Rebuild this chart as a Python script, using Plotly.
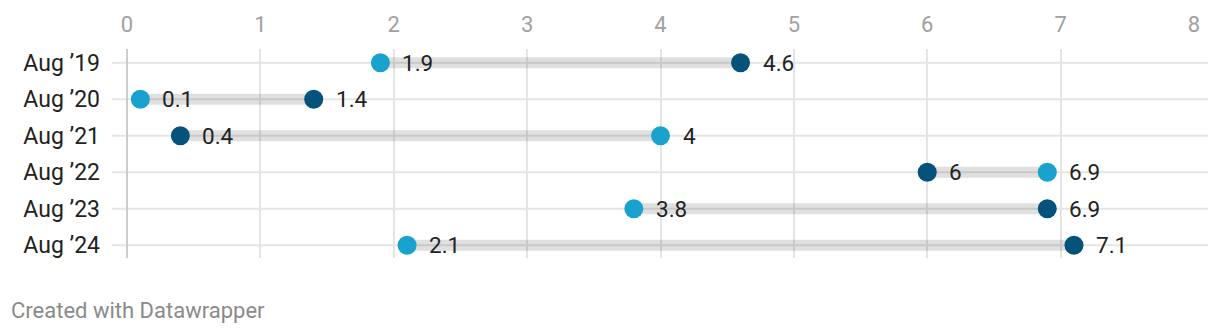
import plotly.graph_objects as go

categories = ["Aug ’19", "Aug ’20", "Aug ’21", "Aug ’22", "Aug ’23", "Aug ’24"]
series_light = [1.9, 0.1, 4, 6.9, 3.8, 2.1]
series_dark = [4.6, 1.4, 0.4, 6, 6.9, 7.1]
x_ticks = [0, 1, 2, 3, 4, 5, 6, 7, 8]

LIGHT = "#1aa2cf"
DARK = "#05537b"
FONT = "Roboto"

W, H = 1220, 336
L, R, T, B = 127, 26, 46, 78
rows = list(range(len(categories)))

fig = go.Figure()

# connecting bars
for i in rows:
    fig.add_trace(go.Scatter(
        x=[series_light[i], series_dark[i]], y=[i, i], mode="lines",
        line=dict(color="rgba(0,0,0,0.12)", width=11),
        hoverinfo="skip", showlegend=False))

def fmt(v):
    return f"{v:g}"

for vals, col in [(series_light, LIGHT), (series_dark, DARK)]:
    fig.add_trace(go.Scatter(
        x=vals, y=rows, mode="markers",
        marker=dict(color=col, size=19, line=dict(width=0)),
        showlegend=False, cliponaxis=False, hoverinfo="x"))
    for i, v in enumerate(vals):
        fig.add_annotation(x=v, y=i, xref="x", yref="y", text=fmt(v),
                           showarrow=False, xanchor="left", yanchor="middle",
                           xshift=20, yshift=0,
                           font=dict(family=FONT, size=22.5, color="#222222"))

# horizontal row gridlines extending beyond plot
plot_w = W - L - R
for i in rows:
    fig.add_shape(type="line", xref="paper", yref="y",
                  x0=-15 / plot_w, x1=1 + 14 / plot_w, y0=i, y1=i,
                  line=dict(color="#e5e5e5", width=2), layer="below")

fig.add_annotation(text="Created with Datawrapper", xref="paper", yref="paper",
                   x=-(L - 9) / plot_w, y=-(311 - (H - B)) / (H - T - B),
                   xanchor="left", yanchor="middle", showarrow=False,
                   font=dict(family=FONT, size=22, color="#8a8a8a"))

fig.update_layout(
    width=W, height=H,
    margin=dict(l=L, r=R, t=T, b=B, pad=0),
    paper_bgcolor="white", plot_bgcolor="white",
    font=dict(family=FONT),
    xaxis=dict(range=[0, 8], side="top", tickvals=x_ticks,
               showgrid=True, gridcolor="#e5e5e5", gridwidth=2,
               zeroline=True, zerolinecolor="#cccccc", zerolinewidth=2,
               showline=False, ticks="", ticklabelstandoff=12,
               tickfont=dict(family=FONT, size=22, color="#a0a0a0"),
               fixedrange=True),
    yaxis=dict(range=[5 + 13 / 37, -14 / 37], tickvals=rows, ticktext=categories,
               showgrid=False, zeroline=False, showline=False, ticks="",
               ticklabelstandoff=26,
               tickfont=dict(family=FONT, size=23, color="#222222"),
               fixedrange=True),
)

fig.write_html("out.html")
